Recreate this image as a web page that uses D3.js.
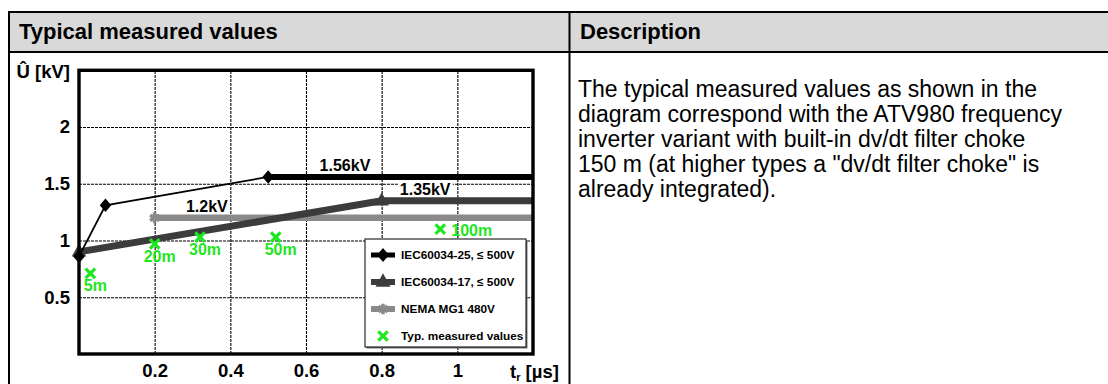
<!DOCTYPE html>
<html>
<head>
<meta charset="utf-8">
<script src="https://cdn.jsdelivr.net/npm/d3@7"></script>
<style>
  body { margin: 0; background: #fff; }
  svg { display: block; }
  text { font-family: "Liberation Sans", Arial, sans-serif; }
</style>
</head>
<body>
<svg id="chart" width="1108" height="384"></svg>
<script>
// Table headings and the description column
const headings = ["Typical measured values", "Description"];
const descriptionLines = [
  "The typical measured values as shown in the",
  "diagram correspond with the ATV980 frequency",
  "inverter variant with built-in dv/dt filter choke",
  "150 m (at higher types a \"dv/dt filter choke\" is",
  "already integrated)."
];

// Axis ticks (rise time t_r in µs, peak voltage in kV)
const xTicks = [0.2, 0.4, 0.6, 0.8, 1];
const yTicks = [0.5, 1, 1.5, 2];

// Limit curves: rise time [µs] vs. peak voltage [kV]
const iec25T = [0, 0.07, 0.5, 1.2];
const iec25U = [0.86, 1.31, 1.56, 1.56];
const iec17T = [0, 0.8, 1.2];
const iec17U = [0.9, 1.35, 1.35];
const nemaT = [0.2, 1.2];
const nemaU = [1.2, 1.2];

// Typical measured values per motor cable length
const cableLengths = ["5m", "20m", "30m", "50m", "100m"];
const measuredT = [0.03, 0.2, 0.32, 0.52, 0.955];
const measuredU = [0.71, 0.97, 1.03, 1.03, 1.1];

const seriesNames = ["IEC60034-25, \u2264 500V", "IEC60034-17, \u2264 500V", "NEMA MG1 480V", "Typ. measured values"];

const GREEN = "#1ee61e";
const DARK = "#3c3c3c";
const GREY = "#8a8a8a";

const svg = d3.select("#chart");

// ---- table frame ----
svg.append("rect").attr("x", 9).attr("y", 12).attr("width", 1099).attr("height", 40).attr("fill", "#d9d9d9");
svg.append("line").attr("x1", 8).attr("x2", 1108).attr("y1", 12).attr("y2", 12).attr("stroke", "#000").attr("stroke-width", 2);
svg.append("line").attr("x1", 8).attr("x2", 1108).attr("y1", 52).attr("y2", 52).attr("stroke", "#000").attr("stroke-width", 2);
svg.append("line").attr("x1", 9).attr("x2", 9).attr("y1", 11).attr("y2", 384).attr("stroke", "#000").attr("stroke-width", 2);
svg.append("line").attr("x1", 569.5).attr("x2", 569.5).attr("y1", 11).attr("y2", 384).attr("stroke", "#000").attr("stroke-width", 2);

svg.selectAll("text.heading").data(headings).join("text")
  .attr("class", "heading")
  .attr("x", (d, i) => i === 0 ? 19 : 580)
  .attr("y", 39)
  .attr("font-size", 22).attr("font-weight", "bold").attr("fill", "#000")
  .text(d => d);

svg.append("text")
  .attr("x", 578).attr("y", 97)
  .attr("font-size", 23).attr("fill", "#000")
  .selectAll("tspan").data(descriptionLines).join("tspan")
  .attr("x", 578).attr("dy", (d, i) => i === 0 ? 0 : 25)
  .text(d => d);

// ---- chart ----
const x = d3.scaleLinear().domain([0, 1.2]).range([79, 533]);
const y = d3.scaleLinear().domain([0, 2.5]).range([354, 70.3]);
const plotH = y(0) - y(2.5);
const plotW = x(1.2) - x(0);

const xAxis = svg.append("g").attr("transform", `translate(0,${y(0)})`)
  .call(d3.axisBottom(x).tickValues(xTicks).tickSize(-plotH).tickPadding(10).tickFormat(d3.format("~g")));
const yAxis = svg.append("g").attr("transform", `translate(${x(0)},0)`)
  .call(d3.axisLeft(y).tickValues(yTicks).tickSize(-plotW).tickPadding(9).tickFormat(d3.format("~g")));
[xAxis, yAxis].forEach(g => {
  g.select(".domain").remove();
  g.selectAll(".tick line").attr("stroke", "#000").attr("stroke-width", 1.1).attr("stroke-dasharray", "3,1");
  g.selectAll(".tick text").attr("font-size", 18.5).attr("font-weight", "bold").attr("fill", "#000")
    .attr("font-family", "'Liberation Sans', Arial, sans-serif");
});

// axis titles
svg.append("text").attr("x", 70).attr("y", 78).attr("text-anchor", "end")
  .attr("font-size", 18.5).attr("font-weight", "bold").text("\u00db [kV]");
const tTitle = svg.append("text").attr("x", 510).attr("y", 378)
  .attr("font-size", 18.5).attr("font-weight", "bold");
tTitle.append("tspan").text("t");
tTitle.append("tspan").attr("font-size", 11).attr("dy", 3).text("r");
tTitle.append("tspan").attr("dy", -3).text(" [\u00b5s]");

const line = d3.line().x(d => x(d[0])).y(d => y(d[1]));
const pts = (ts, us) => ts.map((t, i) => [t, us[i]]);

// custom marker shapes
const diamond = { draw(ctx, s) { const w = s * 0.46, h = s * 0.54; ctx.moveTo(0, -h); ctx.lineTo(w, 0); ctx.lineTo(0, h); ctx.lineTo(-w, 0); ctx.closePath(); } };
const triangle = { draw(ctx, s) { const w = s * 0.5, h = s * 0.58; ctx.moveTo(0, -h); ctx.lineTo(w, h * 0.55); ctx.lineTo(-w, h * 0.55); ctx.closePath(); } };

// NEMA MG1
const nema = pts(nemaT, nemaU);
svg.append("path").attr("d", line(nema)).attr("fill", "none").attr("stroke", GREY).attr("stroke-width", 6.5);
svg.append("path").attr("transform", `translate(${x(nema[0][0])},${y(nema[0][1])})`)
  .attr("d", d3.symbol(d3.symbolAsterisk, 80)()).attr("fill", "none").attr("stroke", GREY).attr("stroke-width", 3.5);

// IEC 60034-17
const iec17 = pts(iec17T, iec17U);
svg.append("path").attr("d", line(iec17)).attr("fill", "none").attr("stroke", DARK).attr("stroke-width", 7);
svg.selectAll("path.tri").data(iec17.slice(0, -1)).join("path").attr("class", "tri")
  .attr("transform", d => `translate(${x(d[0])},${y(d[1])})`)
  .attr("d", d3.symbol(triangle, 14.5)()).attr("fill", DARK);

// IEC 60034-25: thin rising part, thick plateau
const iec25 = pts(iec25T, iec25U);
svg.append("path").attr("d", line(iec25.slice(0, 3))).attr("fill", "none").attr("stroke", "#000").attr("stroke-width", 1.8);
svg.append("path").attr("d", line(iec25.slice(2))).attr("fill", "none").attr("stroke", "#000").attr("stroke-width", 6);
svg.selectAll("path.dia").data(iec25.slice(0, 3)).join("path").attr("class", "dia")
  .attr("transform", d => `translate(${x(d[0])},${y(d[1])})`)
  .attr("d", d3.symbol(diamond, 12.5)()).attr("fill", "#000");

// plateau value labels
const kv = v => d3.format(".2~f")(v) + "kV";
const lblStyle = s => s.attr("font-size", 16).attr("font-weight", "bold").attr("fill", "#000").attr("text-anchor", "middle");
svg.append("text").attr("x", x(0.703)).attr("y", y(iec25U[2]) - 6).call(lblStyle).text(kv(iec25U[2]));
const l17 = svg.append("text").attr("x", x(0.915)).attr("y", y(iec17U[1]) - 6).call(lblStyle).text(kv(iec17U[1]));
const bb = l17.node().getBBox();
svg.insert("rect", () => l17.node()).attr("x", bb.x - 2).attr("y", bb.y + 1).attr("width", bb.width + 4).attr("height", bb.height - 2).attr("fill", "#fff");
svg.append("text").attr("x", x(0.338)).attr("y", y(nemaU[0]) - 6).call(lblStyle).text(kv(nemaU[0]));

// typical measured values
const crossPath = d3.symbol(d3.symbolTimes, 60)();
measuredT.forEach((t, i) => {
  const cx = x(t), cy = y(measuredU[i]);
  svg.append("path").attr("transform", `translate(${cx},${cy})`).attr("d", crossPath)
    .attr("fill", "none").attr("stroke", GREEN).attr("stroke-width", 3.2);
  const last = i === measuredT.length - 1;
  svg.append("text")
    .attr("x", last ? cx + 11 : cx + 5)
    .attr("y", last ? cy + 7 : cy + 18)
    .attr("text-anchor", last ? "start" : "middle")
    .attr("font-size", 16).attr("font-weight", "bold").attr("fill", GREEN)
    .text(cableLengths[i]);
});

// legend
const lg = svg.append("g").attr("transform", "translate(365,239)");
lg.append("rect").attr("x", 1.5).attr("y", 1.5).attr("width", 161).attr("height", 108).attr("fill", "#777");
lg.append("rect").attr("width", 161).attr("height", 108).attr("fill", "#fff").attr("stroke", "#000").attr("stroke-width", 1);
const rows = [
  { color: "#000", shape: d3.symbol(diamond, 13)(), fill: "#000", w: 5 },
  { color: DARK, shape: d3.symbol(triangle, 15)(), fill: DARK, w: 6 },
  { color: GREY, shape: d3.symbol(d3.symbolAsterisk, 80)(), fill: "none", w: 6 },
  { color: null, shape: crossPath, fill: "none", w: 0 }
];
rows.forEach((r, i) => {
  const cy = 16 + i * 27;
  if (r.color) lg.append("line").attr("x1", 6).attr("x2", 30).attr("y1", cy).attr("y2", cy).attr("stroke", r.color).attr("stroke-width", r.w);
  const m = lg.append("path").attr("transform", `translate(18,${cy})`).attr("d", r.shape).attr("fill", r.fill);
  if (i === 2) m.attr("stroke", GREY).attr("stroke-width", 3.5);
  if (i === 3) m.attr("stroke", GREEN).attr("stroke-width", 3.2);
  lg.append("text").attr("x", 36).attr("y", cy + 4).attr("font-size", 11.8).attr("font-weight", "bold").attr("fill", "#000").text(seriesNames[i]);
});

// plot frame
svg.append("rect").attr("x", x(0)).attr("y", y(2.5)).attr("width", plotW).attr("height", plotH)
  .attr("fill", "none").attr("stroke", "#000").attr("stroke-width", 3.4);
</script>
</body>
</html>
